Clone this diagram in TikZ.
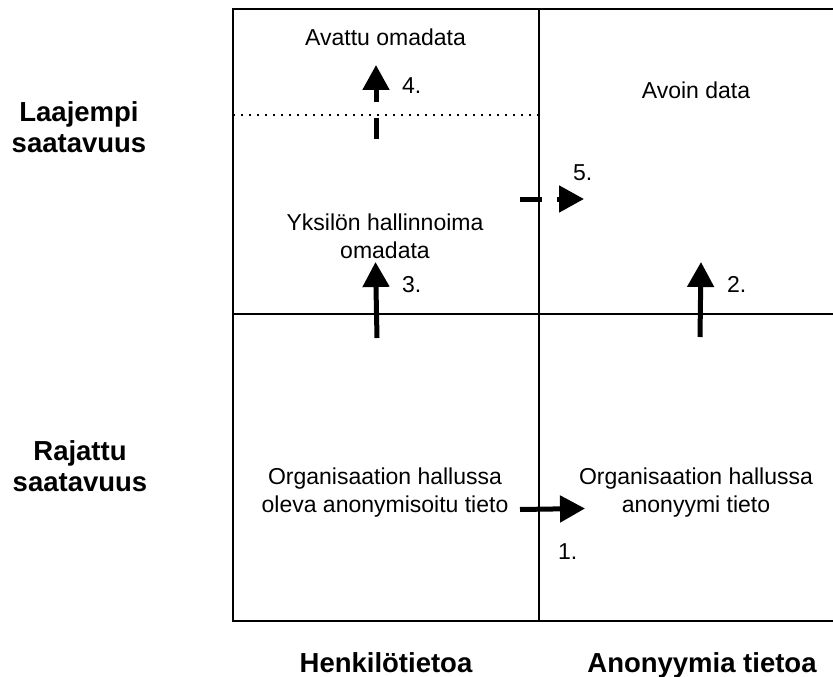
\documentclass[tikz,border=0pt]{standalone}
\usepackage{fontspec}
\setmainfont{Liberation Sans}
\usetikzlibrary{arrows.meta}
\tikzset{
  txt/.style={font=\fontsize{23}{27.5}\selectfont, align=center, inner sep=0pt, anchor=base},
  btxt/.style={font=\fontsize{27.5}{30.5}\selectfont\bfseries, align=center, inner sep=0pt, anchor=base},
  num/.style={font=\fontsize{23}{27.5}\selectfont, inner sep=0pt, anchor=base west},
  frame/.style={line width=2pt},
  arr/.style={line width=5pt, -{Triangle[length=25pt,width=26pt]}},
  dashseg/.style={line width=5pt},
  dots/.style={line width=1.5pt, dash pattern=on 1.5pt off 6.5pt}
}
\begin{document}
\begin{tikzpicture}[x=1pt,y=-1pt]
\useasboundingbox (0,0) rectangle (833,677);
% frame
\coordinate (tl) at (233,9.5);
\coordinate (br) at (836,621);
\draw[frame] (tl) rectangle (br);
\coordinate (vt) at (539,9.5);
\coordinate (vb) at (539,621);
\draw[frame] (vt) -- (vb);
\coordinate (hl) at (233,314);
\coordinate (hr) at (836,314);
\draw[frame] (hl) -- (hr);
\coordinate (dl) at (233,115);
\coordinate (dr) at (539,115);
\draw[dots] (dl) -- (dr);
% texts (base anchor = baseline of the last line)
\node[txt] (avattu) at (385.5,46) {Avattu omadata};
\node[txt] (avoin) at (696,99) {Avoin data};
\node[txt] (yks) at (385,258) {Yksilön hallinnoima\\omadata};
\node[txt] (orgl) at (385,512) {Organisaation hallussa\\oleva anonymisoitu tieto};
\node[txt] (orgr) at (696,512) {Organisaation hallussa\\anonyymi tieto};
\node[btxt] (laaj) at (79,152) {Laajempi\\saatavuus};
\node[btxt] (raj) at (80,491) {Rajattu\\saatavuus};
\node[btxt] (henk) at (386,672) {Henkilötietoa};
\node[btxt] (anon) at (702,672) {Anonyymia tietoa};
% numbers
\node[num] (n4) at (402,94) {4.};
\node[num] (n3) at (402,292) {3.};
\node[num] (n2) at (727,292) {2.};
\node[num] (n5) at (573,180) {5.};
\node[num] (n1) at (558,559) {1.};
% arrow 4 (dashed)
\coordinate (a4s) at (376,139);
\coordinate (a4m) at (376,118);
\coordinate (a4n) at (376,102);
\coordinate (a4e) at (376,65);
\draw[dashseg] (a4s) -- (a4m);
\draw[arr] (a4n) -- (a4e);
% arrow 3
\coordinate (a3s) at (377,338);
\coordinate (a3e) at (375.5,262);
\draw[arr] (a3s) -- (a3e);
% arrow 2
\coordinate (a2s) at (700,337);
\coordinate (a2e) at (701,262);
\draw[arr] (a2s) -- (a2e);
% arrow 5 (dashed)
\coordinate (a5s) at (520,199);
\coordinate (a5m) at (542,199);
\coordinate (a5n) at (557,199);
\coordinate (a5e) at (584,199);
\draw[dashseg] (a5s) -- (a5m);
\draw[arr] (a5n) -- (a5e);
% arrow 1
\coordinate (a1s) at (520,509.5);
\coordinate (a1e) at (585,508.5);
\draw[arr] (a1s) -- (a1e);
\end{tikzpicture}
\end{document}
